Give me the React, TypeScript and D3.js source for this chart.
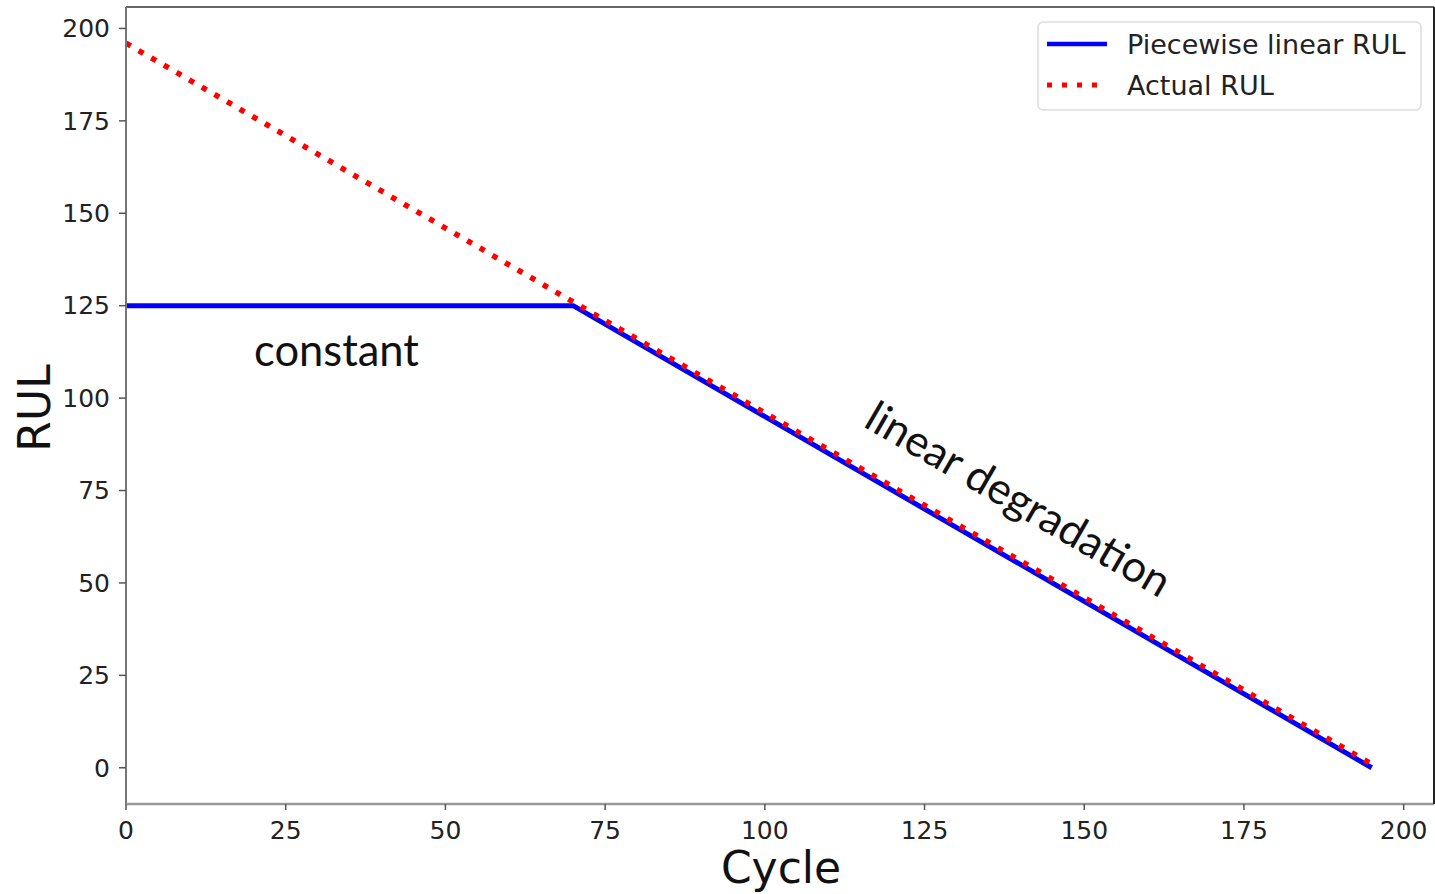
import React from 'react';
import * as d3 from 'd3';

// breakpoints (cycle, RUL)
const piecewiseRul: [number, number][] = [[0, 125], [70, 125], [195, 0]];
const actualRul: [number, number][] = [[0, 196], [195, 1]];

const xTickValues = [0, 25, 50, 75, 100, 125, 150, 175, 200];
const yTickValues = [0, 25, 50, 75, 100, 125, 150, 175, 200];

const legendItems = [
    { label: 'Piecewise linear RUL', kind: 'solid' },
    { label: 'Actual RUL', kind: 'dotted' },
];

const tickFont = '"DejaVu Sans", sans-serif';
const noteFont = 'Lato, "Open Sans", sans-serif';

export default function App() {
    const width = 1435;
    const height = 894;
    const margin = { t: 7, b: 90, r: 1, l: 126 };

    const x = d3.scaleLinear()
        .domain([0, 204.75])
        .range([margin.l, width - margin.r]);

    const y = d3.scaleLinear()
        .domain([-9.8, 205.8])
        .range([height - margin.b, margin.t]);

    const line = d3.line<[number, number]>()
        .x(d => x(d[0]))
        .y(d => y(d[1]));

    const x0 = margin.l, x1 = width - margin.r;
    const y0 = margin.t, y1 = height - margin.b;

    // angle of the falling part, used for the rotated note
    const dx = x(piecewiseRul[2][0]) - x(piecewiseRul[1][0]);
    const dy = y(piecewiseRul[2][1]) - y(piecewiseRul[1][1]);
    const angle = Math.atan2(dy, dx) * 180 / Math.PI;

    return (
        <svg width={width} height={height} style={{ position: 'absolute', left: 0, top: 0, background: '#fff' }}>
            {/* series */}
            <path d={line(piecewiseRul) || ''} fill="none" stroke="#0000ff" strokeWidth={5} strokeLinejoin="round" />
            <path d={line(actualRul) || ''} fill="none" stroke="#ff0000" strokeWidth={5.5} strokeDasharray="5.5 9.1" />

            {/* frame */}
            <line x1={x0} x2={x1} y1={y0} y2={y0} stroke="#666" strokeWidth={2} />
            <line x1={x0} x2={x0} y1={y0} y2={y1} stroke="#777" strokeWidth={2} />
            <line x1={x0} x2={x1} y1={y1} y2={y1} stroke="#999" strokeWidth={2.5} />
            <line x1={x1} x2={x1} y1={y0} y2={y1} stroke="#222" strokeWidth={2} />

            {/* x ticks */}
            <g fontFamily={tickFont} fontSize={25} fill="#222">
                {xTickValues.map(d => (
                    <g key={d} transform={`translate(${x(d)},${y1})`}>
                        <line y1={0} y2={6} stroke="#555" strokeWidth={1.5} />
                        <text y={35} textAnchor="middle">{d}</text>
                    </g>
                ))}
            </g>

            {/* y ticks */}
            <g fontFamily={tickFont} fontSize={25} fill="#222">
                {yTickValues.map(d => (
                    <g key={d} transform={`translate(${x0},${y(d)})`}>
                        <line x1={-7} x2={0} stroke="#555" strokeWidth={1.5} />
                        <text x={-16} dy="0.35em" textAnchor="end">{d}</text>
                    </g>
                ))}
            </g>

            {/* axis titles */}
            <text x={781} y={883} textAnchor="middle" fontFamily={tickFont} fontSize={44} fill="#111">Cycle</text>
            <text transform="translate(50,408) rotate(-90)" textAnchor="middle" fontFamily={tickFont} fontSize={44} fill="#111">RUL</text>

            {/* notes */}
            <text x={254} y={366} fontFamily={noteFont} fontSize={43.5} fill="#111">constant</text>
            <text transform={`translate(862,426) rotate(${angle})`} fontFamily={noteFont} fontSize={43.5} fill="#111">linear degradation</text>

            {/* legend */}
            <g>
                <rect x={1038} y={22} width={383} height={88} rx={5} fill="#fff" fillOpacity={0.8} stroke="#ddd" strokeWidth={1.5} />
                {legendItems.map((it, i) => (
                    <g key={it.label} transform={`translate(1047,${44 + i * 41})`}>
                        {it.kind === 'solid'
                            ? <line x1={0} x2={60} stroke="#0000ff" strokeWidth={4.5} />
                            : <line x1={0} x2={56} stroke="#ff0000" strokeWidth={5} strokeDasharray="5 10" />}
                        <text x={80} dy="0.36em" fontFamily={tickFont} fontSize={27} fill="#222">{it.label}</text>
                    </g>
                ))}
            </g>
        </svg>
    );
}
